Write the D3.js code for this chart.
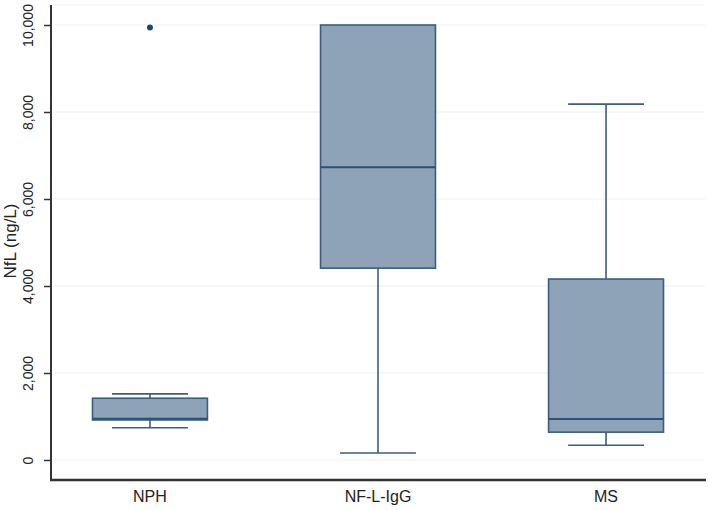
<!DOCTYPE html>
<html>
<head>
<meta charset="utf-8">
<script src="https://cdn.jsdelivr.net/npm/d3@7"></script>
<style>
  body { margin: 0; background: #fff; }
  text { font-family: "Liberation Sans", Arial, sans-serif; fill: #222; }
</style>
</head>
<body>
<div id="chart"></div>
<script>
// size of svg
const width = 709; const height = 510;

// data (ng/L)
const groups = ['NPH', 'NF-L-IgG', 'MS'];
const whiskerLow = [740, 160, 340];
const q1 = [920, 4410, 640];
const median = [950, 6730, 940];
const q3 = [1420, 10000, 4160];
const whiskerHigh = [1520, 10000, 8180];
const outliers = [{group: 'NPH', value: 9940}];
const yTicks = [0, 2000, 4000, 6000, 8000, 10000];

const boxes = groups.map((g, i) => ({
    group: g, lo: whiskerLow[i], q1: q1[i], med: median[i], q3: q3[i], hi: whiskerHigh[i]
}));

const fillColor = '#8ea3b8';
const lineColor = '#3a5d80';

let svg = d3.select('#chart')
    .append('svg')
        .attr('width', width)
        .attr('height', height);

const x = d3.scalePoint()
    .domain(groups)
    .range([51, 705])
    .padding(0.434);
const y = d3.scaleLinear()
    .domain([0, 10000])
    .range([460, 25]);

const step = x.step();
const boxW = step * 0.504;
const capW = boxW * 0.66;

// gridlines
svg.append('g')
    .selectAll('line')
    .data(yTicks)
    .join('line')
        .attr('x1', 55).attr('x2', 705)
        .attr('y1', d => y(d)).attr('y2', d => y(d))
        .attr('stroke', '#e9f1f3')
        .attr('stroke-width', 1.2);
svg.append('line')
    .attr('x1', 55).attr('x2', 705)
    .attr('y1', 5).attr('y2', 5)
    .attr('stroke', '#eef3f5');

// boxes
let bg = svg.append('g')
    .selectAll('g')
    .data(boxes)
    .join('g')
        .attr('transform', d => `translate(${x(d.group)},0)`);

// whiskers
bg.append('line')
    .attr('x1', 0).attr('x2', 0)
    .attr('y1', d => y(d.q3)).attr('y2', d => y(d.hi))
    .attr('stroke', lineColor).attr('stroke-width', 1.6);
bg.append('line')
    .attr('x1', 0).attr('x2', 0)
    .attr('y1', d => y(d.q1)).attr('y2', d => y(d.lo))
    .attr('stroke', lineColor).attr('stroke-width', 1.6);
bg.filter(d => d.hi > d.q3).append('line')
    .attr('x1', -capW / 2).attr('x2', capW / 2)
    .attr('y1', d => y(d.hi)).attr('y2', d => y(d.hi))
    .attr('stroke', lineColor).attr('stroke-width', 1.6);
bg.append('line')
    .attr('x1', -capW / 2).attr('x2', capW / 2)
    .attr('y1', d => y(d.lo)).attr('y2', d => y(d.lo))
    .attr('stroke', lineColor).attr('stroke-width', 1.6);

bg.append('rect')
    .attr('x', -boxW / 2)
    .attr('width', boxW)
    .attr('y', d => y(d.q3))
    .attr('height', d => y(d.q1) - y(d.q3))
    .attr('fill', fillColor)
    .attr('stroke', lineColor)
    .attr('stroke-width', 1.6);
bg.append('line')
    .attr('x1', -boxW / 2).attr('x2', boxW / 2)
    .attr('y1', d => y(d.med)).attr('y2', d => y(d.med))
    .attr('stroke', '#2c5075').attr('stroke-width', 2);

// outliers
svg.append('g')
    .selectAll('circle')
    .data(outliers)
    .join('circle')
        .attr('cx', d => x(d.group))
        .attr('cy', d => y(d.value))
        .attr('r', 3)
        .attr('fill', '#1a476f');

// y axis
let yAxis = svg.append('g')
    .attr('transform', 'translate(51,0)')
    .call(d3.axisLeft(y).tickValues(yTicks).tickSize(7).tickPadding(0).tickFormat(d3.format(',')));
yAxis.select('.domain').remove();
yAxis.selectAll('.tick line').attr('stroke', '#333').attr('stroke-width', 1.5);
yAxis.selectAll('.tick text')
    .attr('transform', 'translate(-23,0) rotate(-90)')
    .attr('x', 0).attr('y', 0).attr('dy', '0.35em')
    .attr('text-anchor', 'middle')
    .style('font-size', '14px')
    .style('font-family', '"Liberation Sans", Arial, sans-serif')
    .attr('fill', '#222');
svg.append('line')
    .attr('x1', 51).attr('x2', 51).attr('y1', 5).attr('y2', 481)
    .attr('stroke', '#333').attr('stroke-width', 2);

// x axis
svg.append('line')
    .attr('x1', 50).attr('x2', 706).attr('y1', 480).attr('y2', 480)
    .attr('stroke', '#333').attr('stroke-width', 2.5);
svg.append('g')
    .selectAll('text')
    .data(groups)
    .join('text')
        .attr('x', d => x(d))
        .attr('y', 502)
        .attr('text-anchor', 'middle')
        .style('font-size', '16px')
        .text(d => d);

// axis title
svg.append('text')
    .attr('transform', 'translate(16,241) rotate(-90)')
    .attr('text-anchor', 'middle')
    .style('font-size', '17px')
    .text('NfL (ng/L)');
</script>
</body>
</html>
